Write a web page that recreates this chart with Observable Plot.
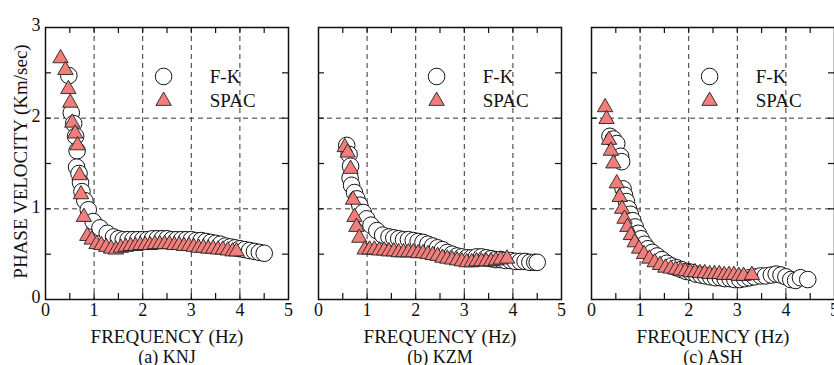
<!DOCTYPE html>
<html>
<head>
<meta charset="utf-8">
<script src="https://cdn.jsdelivr.net/npm/d3@7"></script>
<script src="https://cdn.jsdelivr.net/npm/@observablehq/plot@0.6"></script>
<style>
  html, body { margin: 0; padding: 0; background: #fff; overflow: hidden; }
  #wrap { position: relative; width: 834px; height: 365px; overflow: hidden; }
  #wrap > svg { position: absolute; top: 0; overflow: visible; }
  #wrap svg, #wrap svg text { font-family: "Liberation Serif", "Times New Roman", Times, serif !important; }
</style>
</head>
<body>
<div id="wrap"></div>
<script>
// ---------------- data (frequency Hz, phase velocity km/s) ----------------
const xTicks = [0, 1, 2, 3, 4, 5];
const yTicks = [0, 1, 2, 3];
const xMinor = [0.5, 1, 1.5, 2, 2.5, 3, 3.5, 4, 4.5];
const yMinor = [0.5, 1, 1.5, 2, 2.5];
const xGrid = [1, 2, 3, 4];
const yGrid = [1, 2];
const legendLabels = ["F-K", "SPAC"];
const captions = ["(a) KNJ", "(b) KZM", "(c) ASH"];
const xLabel = "FREQUENCY (Hz)";
const yLabel = "PHASE VELOCITY (Km/sec)";

const knjFK = [
  [0.48,2.47],[0.53,2.06],[0.58,1.94],[0.62,1.80],[0.65,1.64],[0.64,1.46],[0.69,1.39],
  [0.72,1.29],[0.75,1.19],[0.81,1.09],[0.88,0.99],[0.98,0.86],[1.12,0.79],[1.27,0.73],
  [1.40,0.69],[1.50,0.67],[1.60,0.66],[1.70,0.66],[1.80,0.66],[1.90,0.66],[2.00,0.66],
  [2.10,0.66],[2.20,0.67],[2.30,0.67],[2.40,0.67],[2.50,0.67],[2.60,0.66],[2.70,0.66],
  [2.80,0.66],[2.90,0.66],[3.00,0.66],[3.10,0.65],[3.20,0.65],[3.30,0.64],[3.40,0.63],
  [3.50,0.62],[3.60,0.61],[3.70,0.59],[3.80,0.58],[3.90,0.57],[4.00,0.56],[4.10,0.55],
  [4.20,0.54],[4.30,0.53],[4.40,0.52],[4.50,0.51]
];
const knjSPAC = [
  [0.31,2.66],[0.41,2.53],[0.47,2.32],[0.51,2.17],[0.55,1.95],[0.61,1.83],[0.66,1.70],
  [0.70,1.37],[0.73,1.16],[0.79,0.91],[0.86,0.70],[0.95,0.66],[1.05,0.61],[1.15,0.60],
  [1.25,0.58],[1.35,0.56],[1.45,0.55],[1.55,0.57],[1.65,0.58],[1.75,0.59],[1.85,0.59],
  [1.95,0.60],[2.05,0.60],[2.15,0.60],[2.25,0.61],[2.35,0.61],[2.45,0.61],[2.55,0.61],
  [2.65,0.60],[2.75,0.60],[2.85,0.59],[2.95,0.59],[3.05,0.58],[3.15,0.57],[3.25,0.57],
  [3.35,0.56],[3.45,0.56],[3.55,0.55],[3.65,0.55],[3.75,0.54],[3.85,0.53],[3.93,0.53]
];
const kzmFK = [
  [0.58,1.70],[0.63,1.60],[0.66,1.47],[0.65,1.34],[0.68,1.26],[0.74,1.18],[0.79,1.11],
  [0.85,1.04],[0.92,0.96],[0.99,0.89],[1.08,0.82],[1.20,0.76],[1.32,0.71],[1.45,0.69],
  [1.55,0.68],[1.65,0.67],[1.75,0.66],[1.85,0.66],[1.95,0.65],[2.05,0.64],[2.15,0.63],
  [2.25,0.61],[2.35,0.59],[2.45,0.57],[2.55,0.55],[2.65,0.52],[2.75,0.50],[2.85,0.48],
  [2.95,0.47],[3.05,0.46],[3.15,0.46],[3.25,0.47],[3.35,0.47],[3.45,0.46],[3.55,0.45],
  [3.65,0.44],[3.75,0.44],[3.85,0.43],[3.95,0.43],[4.05,0.42],[4.15,0.42],[4.25,0.42],
  [4.35,0.41],[4.45,0.41],[4.50,0.41]
];
const kzmSPAC = [
  [0.54,1.68],[0.60,1.62],[0.66,1.44],[0.71,1.10],[0.74,0.91],[0.78,0.80],[0.84,0.68],
  [0.95,0.55],[1.05,0.55],[1.15,0.55],[1.25,0.54],[1.35,0.54],[1.45,0.53],[1.55,0.53],
  [1.65,0.52],[1.75,0.52],[1.85,0.52],[1.95,0.52],[2.05,0.51],[2.15,0.51],[2.25,0.50],
  [2.35,0.49],[2.45,0.48],[2.55,0.46],[2.65,0.45],[2.75,0.44],[2.85,0.43],[2.95,0.42],
  [3.05,0.41],[3.15,0.41],[3.25,0.42],[3.35,0.42],[3.45,0.42],[3.55,0.42],[3.65,0.43],
  [3.75,0.44],[3.88,0.45]
];
const ashFK = [
  [0.38,1.80],[0.45,1.77],[0.52,1.72],[0.60,1.58],[0.62,1.52],[0.65,1.22],[0.68,1.15],
  [0.72,1.08],[0.76,1.00],[0.80,0.94],[0.85,0.87],[0.90,0.80],[0.96,0.73],[1.02,0.67],
  [1.09,0.61],[1.16,0.56],[1.25,0.52],[1.35,0.48],[1.45,0.44],[1.55,0.40],[1.65,0.37],
  [1.75,0.35],[1.85,0.33],[1.95,0.31],[2.05,0.30],[2.15,0.28],[2.25,0.27],[2.35,0.26],
  [2.45,0.25],[2.55,0.24],[2.65,0.24],[2.75,0.23],[2.85,0.23],[2.95,0.22],[3.05,0.22],
  [3.15,0.23],[3.25,0.24],[3.35,0.25],[3.48,0.26],[3.58,0.26],[3.70,0.27],[3.80,0.28],
  [3.90,0.27],[4.00,0.25],[4.10,0.22],[4.20,0.21],[4.30,0.24],[4.45,0.22]
];
const ashSPAC = [
  [0.28,2.12],[0.31,1.99],[0.36,1.76],[0.40,1.64],[0.45,1.50],[0.52,1.28],[0.58,1.13],
  [0.63,1.00],[0.68,0.89],[0.74,0.80],[0.81,0.71],[0.89,0.63],[0.98,0.56],[1.08,0.50],
  [1.19,0.45],[1.30,0.41],[1.41,0.38],[1.52,0.35],[1.63,0.34],[1.73,0.33],[1.83,0.32],
  [1.93,0.31],[2.03,0.30],[2.13,0.30],[2.23,0.29],[2.33,0.29],[2.43,0.28],[2.53,0.28],
  [2.63,0.28],[2.73,0.27],[2.83,0.27],[2.93,0.27],[3.03,0.26],[3.13,0.26],[3.30,0.27]
];

// ---------------- layout ----------------
const FONT = '"Liberation Serif", "Times New Roman", Times, serif';
const H = 365, MT = 27, MB = 66;
const frameW = 243, frameH = H - MT - MB;
const tickLen = 6;
const panels = [
  {left: 0,   width: 290, ml: 45, mr: 2, fk: knjFK, spac: knjSPAC, cap: captions[0], yaxis: true},
  {left: 290, width: 273, ml: 28, mr: 2, fk: kzmFK, spac: kzmSPAC, cap: captions[1], yaxis: false},
  {left: 563, width: 272, ml: 28, mr: 1, fk: ashFK, spac: ashSPAC, cap: captions[2], yaxis: false}
];

const circleStyle = {symbol: "circle", r: 8.3, fill: "white", stroke: "#111", strokeWidth: 1};
const triStyle = {symbol: "triangle", r: 5.7, fill: "#f27e7c", stroke: "#222", strokeWidth: 0.9};

const wrap = document.getElementById("wrap");

for (const p of panels) {
  const marks = [
    // dashed grid
    Plot.ruleX(xGrid, {x: d => d, stroke: "#333", strokeWidth: 1, strokeDasharray: "5,4"}),
    Plot.ruleY(yGrid, {y: d => d, stroke: "#333", strokeWidth: 1, strokeDasharray: "5,4"}),
    // inward minor ticks on all four sides
    Plot.tickX(xMinor, {x: d => d, insetTop: frameH - tickLen, stroke: "#111", strokeWidth: 1.2}),
    Plot.tickX(xMinor, {x: d => d, insetBottom: frameH - tickLen, stroke: "#111", strokeWidth: 1.2}),
    Plot.tickY(yMinor, {y: d => d, insetRight: frameW - tickLen, stroke: "#111", strokeWidth: 1.2}),
    Plot.tickY(yMinor, {y: d => d, insetLeft: frameW - tickLen, stroke: "#111", strokeWidth: 1.2}),
    // data
    Plot.dot(p.fk, {x: d => d[0], y: d => d[1], ...circleStyle}),
    Plot.dot(p.spac, {x: d => d[0], y: d => d[1], ...triStyle}),
    // legend
    Plot.dot([legendLabels[0]], {x: () => 2.43, y: () => 2.46, ...circleStyle}),
    Plot.dot([legendLabels[1]], {x: () => 2.43, y: () => 2.19, ...triStyle}),
    Plot.text(legendLabels, {x: () => 3.38, y: (d, i) => 2.46 - i * 0.27, text: d => d,
      textAnchor: "start", fontSize: 19, fontFamily: FONT, fill: "#111"}),
    // frame
    Plot.frame({stroke: "#111", strokeWidth: 1.5}),
    // x axis
    Plot.axisX(xTicks, {tickSize: 0, tickPadding: 4, fontSize: 18, fontFamily: FONT, label: null,
      tickFormat: d => String(d), fill: "#111"}),
    Plot.text([xLabel], {frameAnchor: "bottom", dy: 43.5, textAnchor: "middle", text: d => d,
      fontSize: 19, fontFamily: FONT, fill: "#111"}),
    Plot.text([p.cap], {frameAnchor: "bottom", dy: 63, textAnchor: "middle", text: d => d,
      fontSize: 18, fontFamily: FONT, fill: "#111"})
  ];
  if (p.yaxis) {
    marks.push(Plot.axisY(yTicks, {tickSize: 0, tickPadding: 5, fontSize: 18, fontFamily: FONT, label: null,
      tickFormat: d => String(d), fill: "#111", dy: -2}));
    marks.push(Plot.text([yLabel], {frameAnchor: "left", textAnchor: "middle", dx: -25, dy: -2, rotate: -90,
      text: d => d, fontSize: 19, fontFamily: FONT, fill: "#111", lineWidth: 100}));
  }
  const svg = Plot.plot({
    width: p.width, height: H,
    marginLeft: p.ml, marginRight: p.mr, marginTop: MT, marginBottom: MB,
    x: {domain: [0, 5]},
    y: {domain: [0, 3], axis: p.yaxis ? undefined : null},
    style: {fontFamily: FONT, background: "transparent", overflow: "visible", color: "#111"},
    marks
  });
  svg.style.left = p.left + "px";
  wrap.appendChild(svg);
}
</script>
</body>
</html>
